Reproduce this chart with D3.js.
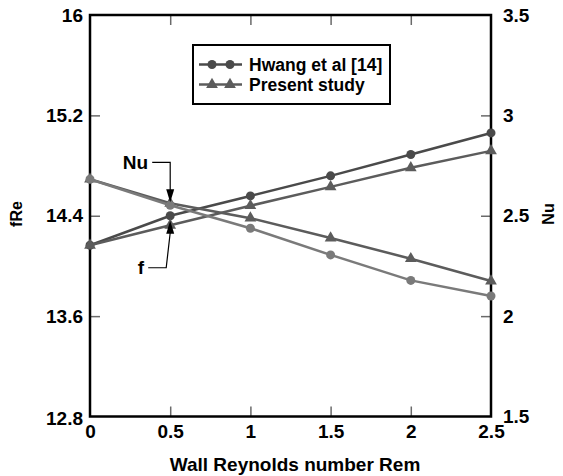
<!DOCTYPE html>
<html>
<head>
<meta charset="utf-8">
<title>fRe and Nu vs wall Reynolds number</title>
<script src="https://cdn.jsdelivr.net/npm/d3@7"></script>
<style>
  body { margin: 0; background: #fff; }
  text { font-family: "Liberation Sans", Arial, Helvetica, sans-serif; font-weight: bold; }
</style>
</head>
<body>
<script>
// data
var rem = [0, 0.5, 1, 1.5, 2, 2.5];
var fHwang   = [14.165, 14.40, 14.558, 14.718, 14.888, 15.06];
var fPresent = [14.165, 14.324, 14.48, 14.63, 14.782, 14.917];
var nuHwang   = [2.682, 2.552, 2.438, 2.305, 2.178, 2.10];
var nuPresent = [2.682, 2.562, 2.488, 2.389, 2.286, 2.175];
var leftTicks = [12.8, 13.6, 14.4, 15.2, 16];
var rightTicks = [1.5, 2, 2.5, 3, 3.5];
var xTicks = [0, 0.5, 1, 1.5, 2, 2.5];

var margin = {top: 15, right: 72, bottom: 59.5, left: 90},
    W = 563, H = 476,
    width = W - margin.left - margin.right,
    height = H - margin.top - margin.bottom;

var svg = d3.select("body").append("svg")
    .attr("width", W).attr("height", H);
var g = svg.append("g")
    .attr("transform", "translate(" + margin.left + "," + margin.top + ")");

var x = d3.scaleLinear().domain([0, 2.5]).range([0, width]);
var yL = d3.scaleLinear().domain([12.8, 16]).range([height, 0]);
var yR = d3.scaleLinear().domain([1.5, 3.5]).range([height, 0]);

// inward ticks, grey
function tickStyle(sel) {
  sel.selectAll(".tick line").attr("stroke", "#6a6a6a").attr("stroke-width", 1.5);
  sel.select(".domain").remove();
  sel.selectAll("text").attr("fill", "#000").style("font-size", "19px");
}

var gx = g.append("g").attr("transform", "translate(0," + height + ")")
    .call(d3.axisBottom(x).tickValues(xTicks).tickSizeInner(-10).tickSizeOuter(0).tickPadding(8)
      .tickFormat(function(d) { return d; }));
tickStyle(gx);
gx.selectAll(".tick").filter(function(d) { return d === 0 || d === 2.5; }).select("line").remove();

var gt = g.append("g")
    .call(d3.axisTop(x).tickValues(xTicks.slice(1, 5)).tickSizeInner(-10).tickSizeOuter(0).tickFormat(""));
tickStyle(gt);

var gl = g.append("g")
    .call(d3.axisLeft(yL).tickValues(leftTicks).tickSizeInner(-10).tickSizeOuter(0).tickPadding(7)
      .tickFormat(d3.format("")));
tickStyle(gl);
gl.selectAll(".tick").filter(function(d) { return d === 12.8 || d === 16; }).select("line").remove();
gl.selectAll(".tick").filter(function(d) { return d === 12.8; }).select("text").attr("y", 2);

var gr = g.append("g").attr("transform", "translate(" + width + ",0)")
    .call(d3.axisRight(yR).tickValues(rightTicks).tickSizeInner(-10).tickSizeOuter(0).tickPadding(12)
      .tickFormat(d3.format("")));
tickStyle(gr);
gr.selectAll(".tick").filter(function(d) { return d === 1.5 || d === 3.5; }).select("line").remove();

// frame
g.append("rect").attr("width", width).attr("height", height)
  .attr("fill", "none").attr("stroke", "#000").attr("stroke-width", 2.5);

// axis titles
svg.append("text").attr("x", 295).attr("y", 471)
  .attr("text-anchor", "middle").style("font-size", "19px")
  .text("Wall Reynolds number Rem");
svg.append("text").attr("transform", "translate(22,214) rotate(-90)")
  .attr("text-anchor", "middle").style("font-size", "16px").text("fRe");
svg.append("text").attr("transform", "translate(554,214) rotate(-90)")
  .attr("text-anchor", "middle").style("font-size", "16px").text("Nu");

// series
var series = [
  {vals: fHwang, y: yL, color: "#4a4a4a", sym: "circle"},
  {vals: fPresent, y: yL, color: "#5c5c5c", sym: "triangle"},
  {vals: nuPresent, y: yR, color: "#5c5c5c", sym: "triangle"},
  {vals: nuHwang, y: yR, color: "#7a7a7a", sym: "circle"}
];

function marker(sel, sym, color) {
  if (sym === "circle") {
    sel.append("circle").attr("r", 4.5).attr("fill", color);
  } else {
    sel.append("path").attr("d", d3.symbol(d3.symbolTriangle, 60)()).attr("fill", color);
  }
}

var line = d3.line();
series.forEach(function(s) {
  var pts = rem.map(function(r, i) { return [x(r), s.y(s.vals[i])]; });
  g.append("path").attr("d", line(pts))
    .attr("fill", "none").attr("stroke", s.color).attr("stroke-width", 2.5);
  pts.forEach(function(p) {
    var m = g.append("g").attr("transform", "translate(" + p[0] + "," + p[1] + ")");
    marker(m, s.sym, s.color);
  });
});

// legend
var lg = svg.append("g").attr("transform", "translate(193,45)");
lg.append("rect").attr("width", 197).attr("height", 59)
  .attr("fill", "#fff").attr("stroke", "#000").attr("stroke-width", 2);
var legendItems = [
  {label: "Hwang et al [14]", color: "#4a4a4a", sym: "circle"},
  {label: "Present study", color: "#5c5c5c", sym: "triangle"}
];
legendItems.forEach(function(it, i) {
  var yy = 19.5 + i * 20;
  lg.append("line").attr("x1", 6).attr("x2", 49).attr("y1", yy).attr("y2", yy)
    .attr("stroke", it.color).attr("stroke-width", 2.5);
  [19, 37].forEach(function(mx) {
    marker(lg.append("g").attr("transform", "translate(" + mx + "," + yy + ")"), it.sym, it.color);
  });
  lg.append("text").attr("x", 56).attr("y", yy).attr("dy", "0.35em")
    .style("font-size", "17.5px").text(it.label);
});

// annotations with arrows
var ax = margin.left + x(0.5);
var nuTip = margin.top + yR(nuHwang[1]) - 3;
var fTip = margin.top + yL(fHwang[1]) + 5;
var ann = svg.append("g");
ann.append("path")
  .attr("d", "M" + (ax - 18) + "," + (nuTip - 40) + "H" + ax + "V" + (nuTip - 12))
  .attr("fill", "none").attr("stroke", "#000").attr("stroke-width", 1.2);
ann.append("path")
  .attr("d", "M" + (ax - 4) + "," + (nuTip - 13) + "L" + ax + "," + nuTip + "L" + (ax + 4) + "," + (nuTip - 13) + "Z")
  .attr("fill", "#000");
ann.append("text").attr("x", ax - 22).attr("y", nuTip - 40).attr("dy", "0.35em")
  .attr("text-anchor", "end").style("font-size", "19px").text("Nu");

ann.append("path")
  .attr("d", "M" + (ax - 22) + "," + (fTip + 47) + "H" + (ax - 4) + "L" + ax + "," + (fTip + 12))
  .attr("fill", "none").attr("stroke", "#000").attr("stroke-width", 1.2);
ann.append("path")
  .attr("d", "M" + (ax - 4) + "," + (fTip + 13) + "L" + ax + "," + fTip + "L" + (ax + 4) + "," + (fTip + 13) + "Z")
  .attr("fill", "#000");
ann.append("text").attr("x", ax - 26).attr("y", fTip + 47).attr("dy", "0.35em")
  .attr("text-anchor", "end").style("font-size", "19px").text("f");
</script>
</body>
</html>
